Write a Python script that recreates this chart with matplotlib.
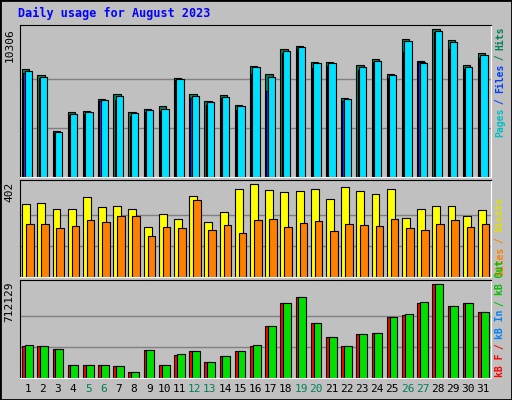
import numpy as np
import matplotlib.pyplot as plt

days = np.arange(1, 32)
weekend = [5, 6, 12, 13, 19, 20, 26, 27]

# values
hits = [7507, 7087, 3241, 4571, 4641, 5410, 5760, 4571, 4781, 4921, 6877, 5760, 5270,
        5690, 4991, 7717, 7157, 8906, 9116, 7997, 7997, 5480, 7787, 8207, 7157, 9606,
        8067, 10306, 9537, 7787, 8627]
files = [7274, 6901, 3101, 4314, 4431, 5317, 5364, 4291, 4571, 4641, 6761, 5480, 4991,
         5504, 4711, 7157, 6037, 8673, 8930, 7577, 7717, 5294, 7437, 7997, 6877, 8697,
         7997, 10096, 8906, 7507, 8277]
pages = [7367, 6994, 3171, 4431, 4571, 5340, 5620, 4501, 4711, 4781, 6807, 5620, 5200,
         5550, 4921, 7647, 6994, 8767, 9046, 7927, 7927, 5410, 7647, 8067, 7087, 9466,
         7927, 10166, 9396, 7647, 8487]
visits = [315, 319, 297, 293, 346, 302, 306, 297, 218, 274, 252, 353, 239, 283, 380, 402,
          377, 368, 372, 380, 337, 389, 372, 359, 380, 257, 293, 310, 306, 263, 289]
sites = [228, 228, 211, 220, 246, 237, 263, 263, 177, 215, 211, 332, 202, 224, 189, 246,
         250, 215, 233, 241, 198, 228, 224, 220, 250, 211, 206, 228, 246, 215, 228]
kb_f = [244000, 244000, 221000, 96000, 96000, 96000, 88000, 42000, 213000, 96000,
        174000, 205000, 120000, 166000, 205000, 244000, 392000, 572000, 619000, 416000,
        314000, 244000, 338000, 346000, 463000, 478000, 572000, 712129, 548000, 572000, 502000]
kb_out = [252000, 244000, 221000, 96000, 96000, 96000, 88000, 49000, 213000, 96000,
          182000, 205000, 120000, 166000, 205000, 252000, 392000, 572000, 619000, 416000,
          314000, 244000, 338000, 346000, 463000, 486000, 580000, 712129, 548000, 572000, 502000]

bg = '#C0C0C0'
fig = plt.figure(figsize=(5.12, 4.0), dpi=100, facecolor=bg)
mono = 'DejaVu Sans Mono'

fig.text(18/512, 1 - 13/400, 'Daily usage for August 2023', color='#0000FF',
         fontsize=8.5, fontweight='bold', family=mono, va='center')

def panel(rect, ymax, top):
    ax = fig.add_axes(rect)
    ax.set_facecolor(bg)
    ax.set_xlim(0.5, 31.5)
    ax.set_ylim(0, ymax)
    for v in (top/3, 2*top/3):
        ax.axhline(v, color='#808080', lw=1, zorder=0)
    ax.set_xticks([]); ax.set_yticks([])
    for s in ('left', 'top'):
        ax.spines[s].set_color('black')
    for s in ('right', 'bottom'):
        ax.spines[s].set_color('white')
    return ax

kw = dict(align='edge', edgecolor='black', linewidth=0.8)

ax1 = panel([20/512, 223/400, 471/512, 152/400], 10306*455/442, 10306)
ax1.bar(days - 0.36, hits, 0.48, color='#00805C', **kw)
ax1.bar(days - 0.28, files, 0.46, color='#0040FF', **kw)
ax1.bar(days - 0.2, pages, 0.48, color='#00E0FF', **kw)

ax2 = panel([20/512, 123/400, 471/512, 97/400], 402*290/277, 402)
ax2.bar(days - 0.36, visits, 0.52, color='#FFFF00', **kw)
ax2.bar(days - 0.1, sites, 0.5, color='#FF8000', **kw)

ax3 = panel([20/512, 22/400, 471/512, 98/400], 712129*287/274, 712129)
ax3.bar(days - 0.36, kb_f, 0.52, color='#FF0000', **kw)
ax3.bar(days - 0.18, kb_out, 0.52, color='#00E000', **kw)

for ax, lab in ((ax1, '10306'), (ax2, '402'), (ax3, '712129')):
    ax.text(-0.012, 0.98, lab, transform=ax.transAxes, rotation=90, ha='right',
            va='top', fontsize=8, family=mono)

for d in days:
    fig.text((20 + (d - 0.5) * 471/31) / 512, 1 - 389/400, str(d), ha='center', va='center',
             fontsize=8, family=mono, color='#00805C' if d in weekend else 'black')

def side(parts, y0):
    y = y0
    cw = 5.45 / 400
    for txt, col in parts:
        fig.text(500/512, y, txt, rotation=90, color=col, fontsize=7, family=mono,
                 fontweight='bold', ha='center', va='bottom')
        y += len(txt) * cw

side([('Pages', '#00C0C0'), (' / ', '#0040FF'), ('Files', '#0040FF'), (' / ', '#00805C'),
      ('Hits', '#00805C')], 1 - 137/400)
side([('Sites', '#FF8000'), (' / ', '#FF8000'), ('Visits', '#E0E000')], 1 - 276/400)
side([('kB F', '#FF0000'), (' / ', '#FF0000'), ('kB In', '#0080FF'), (' / ', '#00C000'),
      ('kB Out', '#00C000')], 1 - 377/400)

fig.patches.append(plt.Rectangle((0, 0), 1, 1, transform=fig.transFigure, fill=False,
                                 edgecolor='black', lw=2))
fig.savefig('out.png', dpi=100, facecolor=bg)
